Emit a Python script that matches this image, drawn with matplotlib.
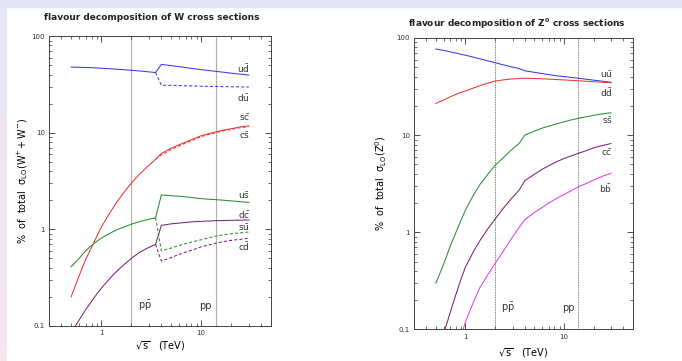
#!/usr/bin/env python3

import numpy as np
import matplotlib
matplotlib.use('Agg')
import matplotlib.pyplot as plt
from matplotlib.patches import Rectangle
from matplotlib.ticker import LogLocator, FuncFormatter, NullFormatter

# sqrt(s) grid in TeV (ppbar up to 3.5 TeV, pp from 4 TeV)
sqrt_s = [0.5, 0.6, 0.7, 0.8, 0.9, 1, 1.2, 1.4, 1.7, 2, 2.4, 2.9, 3.5,
          4, 5, 6, 7, 8.5, 10, 12, 14, 17, 20, 25, 30]
sqrt_s_pp = [3.5, 4, 5, 6, 7, 8.5, 10, 12, 14, 17, 20, 25, 30]

# W cross-section flavour fractions (%)
w_udbar = [47.8, 47.6, 47.3, 47.1, 46.8, 46.5, 46.0, 45.5, 44.9, 44.3, 43.6, 42.8, 41.9,
           51.0, 49.5, 48.3, 47.2, 46.0, 45.0, 44.0, 43.2, 42.2, 41.3, 40.3, 39.5]
w_scbar = [0.2, 0.33, 0.49, 0.65, 0.84, 1.05, 1.44, 1.85, 2.44, 3.0, 3.7, 4.45, 5.3,
           6.1, 6.9, 7.5, 8.0, 8.7, 9.3, 9.8, 10.2, 10.7, 11.0, 11.5, 11.8]
w_usbar = [0.41, 0.5, 0.6, 0.68, 0.75, 0.81, 0.9, 0.98, 1.06, 1.13, 1.2, 1.26, 1.32,
           2.27, 2.23, 2.2, 2.17, 2.12, 2.08, 2.05, 2.03, 2.0, 1.97, 1.93, 1.9]
w_dcbar = [0.085, 0.115, 0.148, 0.18, 0.213, 0.245, 0.305, 0.36, 0.435, 0.5, 0.575, 0.64, 0.70,
           1.10, 1.14, 1.16, 1.18, 1.2, 1.21, 1.22, 1.23, 1.235, 1.24, 1.245, 1.25]
# pp-only charge-conjugate channels (dashed)
w_dubar = [41.9, 31.0, 30.9, 30.8, 30.6, 30.5, 30.3, 30.2, 30.1, 30.0, 29.9, 29.8, 29.7]
w_csbar = [5.3, 5.9, 6.7, 7.3, 7.8, 8.5, 9.1, 9.6, 10.0, 10.5, 10.8, 11.3, 11.6]
w_subar = [1.32, 0.6, 0.64, 0.68, 0.71, 0.75, 0.78, 0.82, 0.85, 0.88, 0.9, 0.92, 0.94]
w_cdbar = [0.70, 0.47, 0.51, 0.55, 0.58, 0.62, 0.66, 0.69, 0.72, 0.75, 0.77, 0.79, 0.81]

# Z0 cross-section flavour fractions (%)
z_uubar = [77, 74.5, 72, 70, 68, 66.5, 63.5, 61, 58, 55.7, 53, 50.5, 48.5,
           46, 44.3, 43, 42, 40.8, 40, 39.2, 38.5, 37.6, 36.8, 35.8, 35]
z_ddbar = [21.2, 23, 24.8, 26.3, 27.5, 28.5, 30.5, 32.3, 34.3, 36, 37, 37.8, 38.3,
           38.5, 38.3, 38, 37.7, 37.3, 37, 36.6, 36.3, 35.8, 35.5, 35, 34.7]
z_ssbar = [0.3, 0.47, 0.72, 1.0, 1.33, 1.7, 2.4, 3.1, 4.0, 4.9, 5.8, 7.0, 8.2,
           10.0, 11.0, 11.8, 12.4, 13.1, 13.7, 14.4, 14.9, 15.5, 16.0, 16.6, 17.0]
z_ccbar = [0.05, 0.09, 0.15, 0.23, 0.33, 0.44, 0.63, 0.82, 1.1, 1.37, 1.75, 2.2, 2.72,
           3.4, 3.95, 4.45, 4.85, 5.35, 5.75, 6.15, 6.5, 6.95, 7.4, 7.85, 8.2]
z_bbbar = [0.012, 0.02, 0.035, 0.055, 0.085, 0.12, 0.19, 0.27, 0.37, 0.48, 0.63, 0.85, 1.12,
           1.35, 1.6, 1.8, 2.0, 2.25, 2.45, 2.7, 2.94, 3.2, 3.45, 3.8, 4.05]

tevatron = 2.0
lhc = 14.0

BLUE = '#3a3ae0'
RED = '#e83535'
GREEN = '#2e8b2e'
PURPLE = '#7a2080'
MAGENTA = '#e040e0'

plt.rcParams['mathtext.default'] = 'regular'
plt.rcParams['font.family'] = ['DejaVu Sans']


def style_axes(ax, xpad):
    ax.set_xscale('log')
    ax.set_yscale('log')
    ax.set_xlim(0.3, 50)
    ax.set_ylim(0.1, 100)
    fmt = FuncFormatter(lambda v, p: '%g' % v)
    ax.xaxis.set_major_formatter(fmt)
    ax.yaxis.set_major_formatter(fmt)
    ax.xaxis.set_minor_locator(LogLocator(subs=np.arange(2, 10)))
    ax.yaxis.set_minor_locator(LogLocator(subs=np.arange(2, 10)))
    ax.xaxis.set_minor_formatter(NullFormatter())
    ax.yaxis.set_minor_formatter(NullFormatter())
    ax.tick_params(which='both', direction='in', top=True, right=True,
                   labelsize=5, colors='#333333', pad=3)
    ax.tick_params(which='major', length=4, width=0.6)
    ax.tick_params(which='minor', length=2, width=0.5)
    for s in ax.spines.values():
        s.set_linewidth(0.7)
        s.set_color('#444444')
    ax.set_xlabel(r'$\sqrt{s}$   (TeV)', fontsize=7, labelpad=xpad)


fig = plt.figure(figsize=(6.82, 3.61), dpi=100)
fig.patch.set_facecolor('white')

# slide background remnants: top band and left gradient strip
fig.patches.append(Rectangle((0, 1 - 7 / 361), 1, 7 / 361,
                             transform=fig.transFigure, color='#e6e4f8', zorder=0))
strip = fig.add_axes([0, 0, 7 / 682, 1 - 7 / 361])
grad = np.linspace(0, 1, 100)[:, None]
c_top = np.array([0.91, 0.90, 0.97])
c_bot = np.array([0.97, 0.90, 0.94])
strip.imshow(c_top + grad[:, :, None] * (c_bot - c_top), aspect='auto')
strip.axis('off')

lw = 0.75
dash = (0, (3, 2))

# ---- W panel ----
ax1 = fig.add_axes([0.0718, 0.097, 0.3255, 0.803])
style_axes(ax1, 2)
for xv in (tevatron, lhc):
    ax1.axvline(xv, color='#b0b0b0', lw=0.8, zorder=1)
ax1.plot(sqrt_s, w_udbar, color=BLUE, lw=lw)
ax1.plot(sqrt_s_pp, w_dubar, color=BLUE, lw=lw, ls=dash)
ax1.plot(sqrt_s, w_scbar, color=RED, lw=lw)
ax1.plot(sqrt_s_pp, w_csbar, color=RED, lw=lw, ls=dash)
ax1.plot(sqrt_s, w_usbar, color=GREEN, lw=lw)
ax1.plot(sqrt_s_pp, w_subar, color=GREEN, lw=lw, ls=dash)
ax1.plot(sqrt_s, w_dcbar, color=PURPLE, lw=lw)
ax1.plot(sqrt_s_pp, w_cdbar, color=PURPLE, lw=lw, ls=dash)

w_labels = [(r'$u\bar{d}$', 46), (r'$d\bar{u}$', 23.1), (r'$s\bar{c}$', 14.4),
            (r'$c\bar{s}$', 9.4), (r'$u\bar{s}$', 2.26), (r'$d\bar{c}$', 1.43),
            (r'$s\bar{u}$', 1.05), (r'$c\bar{d}$', 0.66)]
for txt, yv in w_labels:
    ax1.text(31, yv, txt, fontsize=6.5, ha='right', va='center', color='#333333')
ax1.text(2.75, 0.162, r'$p\bar{p}$', fontsize=7, ha='center', va='center', color='#333333')
ax1.text(11, 0.162, 'pp', fontsize=7, ha='center', va='center', color='#333333')
ax1.set_ylabel(r'%  of  total  $\sigma_{LO}(W^{+}\!+W^{-})$', fontsize=7, labelpad=1)
fig.text(0.223, 0.952, 'flavour decomposition of W cross sections',
         fontsize=6.5, fontweight='bold', ha='center', va='center', color='#222222')

# ---- Z0 panel ----
ax2 = fig.add_axes([0.607, 0.0873, 0.321, 0.8075])
style_axes(ax2, 5)
for xv in (tevatron, lhc):
    ax2.axvline(xv, color='#555555', lw=0.6, ls=(0, (1, 1)), zorder=1)
ax2.plot(sqrt_s, z_uubar, color=BLUE, lw=lw)
ax2.plot(sqrt_s, z_ddbar, color=RED, lw=lw)
ax2.plot(sqrt_s, z_ssbar, color=GREEN, lw=lw)
ax2.plot(sqrt_s, z_ccbar, color=PURPLE, lw=lw)
ax2.plot(sqrt_s, z_bbbar, color=MAGENTA, lw=lw)

z_labels = [(r'$u\bar{u}$', 42.3), (r'$d\bar{d}$', 27.4), (r'$s\bar{s}$', 14.1),
            (r'$c\bar{c}$', 6.6), (r'$b\bar{b}$', 2.83)]
for txt, yv in z_labels:
    ax2.text(31, yv, txt, fontsize=6.5, ha='right', va='center', color='#333333')
ax2.text(2.7, 0.165, r'$p\bar{p}$', fontsize=7, ha='center', va='center', color='#333333')
ax2.text(11, 0.165, 'pp', fontsize=7, ha='center', va='center', color='#333333')
ax2.set_ylabel(r'%  of  total  $\sigma_{LO}(Z^{0})$', fontsize=7, labelpad=5)
fig.text(0.758, 0.935, r'flavour decomposition of Z$^{0}$ cross sections',
         fontsize=6.5, fontweight='bold', ha='center', va='center', color='#222222')

fig.savefig('out.png', dpi=100, facecolor=fig.get_facecolor())
